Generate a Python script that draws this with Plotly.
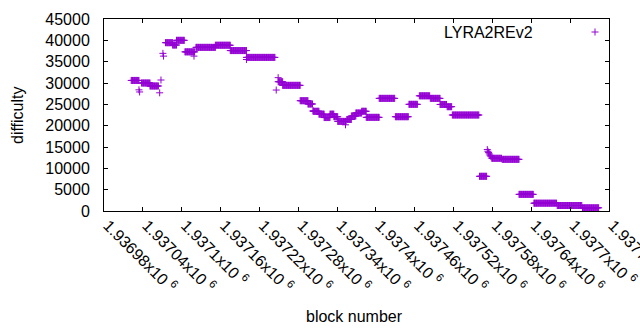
import plotly.graph_objects as go

# ---- data ----
# runs of consecutive blocks sharing one difficulty value
run_start = [1937022, 1937038, 1937051, 1937075, 1937086, 1937092, 1937105, 1937122,
             1937152, 1937175, 1937200, 1937249, 1937256, 1937283, 1937295, 1937303,
             1937312, 1937320, 1937329, 1937335, 1937341, 1937355, 1937362, 1937369,
             1937378, 1937385, 1937405, 1937430, 1937451, 1937467, 1937484, 1937499,
             1937510, 1937518, 1937560, 1937579, 1937595, 1937621, 1937644, 1937680,
             1937719]
run_end = [1937034, 1937051, 1937064, 1937086, 1937092, 1937104, 1937120, 1937152,
           1937175, 1937200, 1937244, 1937256, 1937283, 1937295, 1937302, 1937312,
           1937320, 1937329, 1937335, 1937341, 1937354, 1937362, 1937369, 1937378,
           1937385, 1937405, 1937429, 1937450, 1937464, 1937483, 1937499, 1937509,
           1937517, 1937559, 1937571, 1937594, 1937621, 1937643, 1937679, 1937718,
           1937744]
run_diff = [30600, 30000, 29300, 39450, 38900, 40000, 37300, 38350,
            38850, 37600, 36000, 30300, 29450, 25850, 25080, 23370,
            22700, 21900, 22700, 22100, 21000, 21450, 22260, 22970,
            23370, 21950, 26400, 22100, 25000, 27000, 26400, 24970,
            24450, 22500, 8130, 12350, 12110, 3900, 1830, 1290,
            750]

# isolated blocks
pt_block = [1937034, 1937035, 1937066, 1937068, 1937071, 1937072, 1937119, 1937200,
            1937246, 1937249, 1937303, 1937353, 1937572, 1937573, 1937574, 1937575,
            1937576, 1937577, 1937578]
pt_diff = [28400, 27900, 27700, 30700, 36950, 36300, 36300, 35500,
           28350, 31250, 23500, 20200, 14400, 14000, 13700, 13400,
           13100, 12900, 12700]

x_tickvals = [1936980, 1937040, 1937100, 1937160, 1937220, 1937280, 1937340,
              1937400, 1937460, 1937520, 1937580, 1937640, 1937700, 1937760]
x_ticktext = ["1.93698x10 <sup>6</sup>", "1.93704x10 <sup>6</sup>", "1.9371x10 <sup>6</sup>",
              "1.93716x10 <sup>6</sup>", "1.93722x10 <sup>6</sup>", "1.93728x10 <sup>6</sup>",
              "1.93734x10 <sup>6</sup>", "1.9374x10 <sup>6</sup>", "1.93746x10 <sup>6</sup>",
              "1.93752x10 <sup>6</sup>", "1.93758x10 <sup>6</sup>", "1.93764x10 <sup>6</sup>",
              "1.9377x10 <sup>6</sup>", "1.93776x10 <sup>6</sup>"]
y_tickvals = [0, 5000, 10000, 15000, 20000, 25000, 30000, 35000, 40000, 45000]
y_ticktext = ["0", "5000", "10000", "15000", "20000", "25000", "30000", "35000", "40000", "45000"]

series_name = "LYRA2REv2"

# ---- build point list ----
xs, ys = [], []
for s, e, d in zip(run_start, run_end, run_diff):
    for b in range(s, e + 1):
        xs.append(b)
        ys.append(d)
xs += pt_block
ys += pt_diff

COL = "#9400d3"
FONT = "Liberation Sans, Arial, sans-serif"

fig = go.Figure()
fig.add_trace(go.Scatter(
    x=xs, y=ys, mode="markers", name=series_name, showlegend=False, hoverinfo="skip",
    marker=dict(symbol="cross-thin", size=5, color=COL, line=dict(width=1, color=COL)),
))

W, H = 640, 330
L, R, T, B = 104, 31, 19, 119
pw, ph = W - L - R, H - T - B

def px(xp):
    return (xp - L) / pw

def py(yp):
    return (H - B - yp) / ph

axis_common = dict(showline=True, linecolor="black", linewidth=1, mirror="ticks",
                   ticks="inside", ticklen=4, tickcolor="black", tickwidth=1,
                   showgrid=False, zeroline=False, automargin=False,
                   ticklabeloverflow="allow",
                   tickfont=dict(family=FONT, size=16, color="black"))

fig.update_xaxes(range=[1936980, 1937760], tickvals=x_tickvals, ticktext=x_ticktext,
                 tickangle=45, ticklabelshift=4, ticklabelstandoff=-2, **axis_common)
fig.update_yaxes(range=[0, 45000], tickvals=y_tickvals, ticktext=y_ticktext,
                 ticklabelstandoff=10, **axis_common)

# legend: text then sample, gnuplot style
kx, ky = px(595), py(32)
hx, hy = 3.5 / pw, 3.5 / ph
fig.add_shape(type="line", xref="paper", yref="paper", x0=kx - hx, x1=kx + hx, y0=ky, y1=ky,
              line=dict(color=COL, width=1))
fig.add_shape(type="line", xref="paper", yref="paper", x0=kx, x1=kx, y0=ky - hy, y1=ky + hy,
              line=dict(color=COL, width=1))
fig.add_annotation(text=series_name, xref="paper", yref="paper", x=px(535), y=ky,
                   xanchor="right", yanchor="middle", showarrow=False,
                   font=dict(family=FONT, size=16, color="black"))

fig.add_annotation(text="block number", xref="paper", yref="paper", x=px(354), y=py(316),
                   xanchor="center", yanchor="middle", showarrow=False,
                   font=dict(family=FONT, size=16, color="black"))
fig.add_annotation(text="difficulty", xref="paper", yref="paper", x=px(17), y=py(115),
                   xanchor="center", yanchor="middle", showarrow=False, textangle=-90,
                   font=dict(family=FONT, size=16, color="black"))

fig.update_layout(width=W, height=H, margin=dict(l=L, r=R, t=T, b=B, pad=0, autoexpand=False),
                  paper_bgcolor="white", plot_bgcolor="white", showlegend=False)

fig.write_html("out.html", config={"displayModeBar": False, "staticPlot": True},
               post_script="document.body.style.margin='0px';document.body.style.overflow='hidden';")
